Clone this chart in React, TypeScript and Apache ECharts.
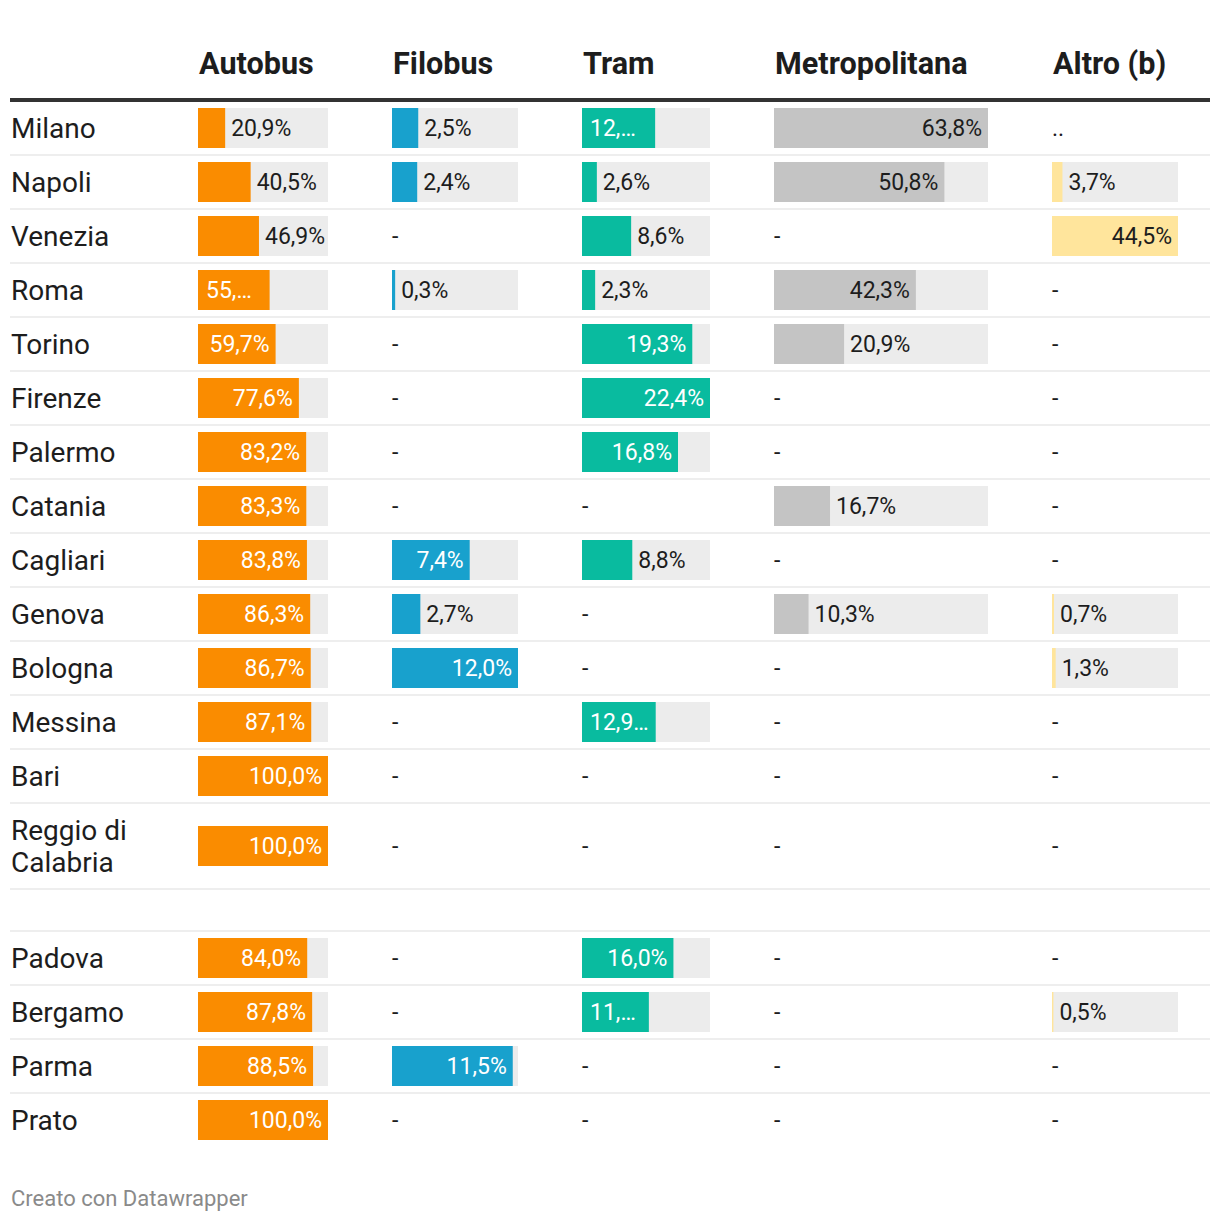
import React, { useEffect, useRef } from "react";
import * as echarts from "echarts";

// ---------- data ----------
const columns = ["Autobus", "Filobus", "Tram", "Metropolitana", "Altro (b)"];

const cities = [
  "Milano", "Napoli", "Venezia", "Roma", "Torino", "Firenze", "Palermo", "Catania",
  "Cagliari", "Genova", "Bologna", "Messina", "Bari",
  "Reggio di\nCalabria",
  "Padova", "Bergamo", "Parma", "Prato",
];

type Cell = number | null | string;

const autobus: Cell[] = [20.9, 40.5, 46.9, 55.1, 59.7, 77.6, 83.2, 83.3, 83.8, 86.3, 86.7, 87.1, 100.0, 100.0, 84.0, 87.8, 88.5, 100.0];
const filobus: Cell[] = [2.5, 2.4, null, 0.3, null, null, null, null, 7.4, 2.7, 12.0, null, null, null, null, null, 11.5, null];
const tram: Cell[] = [12.8, 2.6, 8.6, 2.3, 19.3, 22.4, 16.8, null, 8.8, null, null, 12.9, null, null, 16.0, 11.7, null, null];
const metropolitana: Cell[] = [63.8, 50.8, null, 42.3, 20.9, null, null, 16.7, null, 10.3, null, null, null, null, null, null, null, null];
const altro: Cell[] = ["..", 3.7, 44.5, null, null, null, null, null, null, 0.7, 1.3, null, null, null, null, 0.5, null, null];

// labels shown truncated in the original table
const truncatedLabels: Record<string, string> = {
  "Autobus|Roma": "55,…",
  "Tram|Milano": "12,…",
  "Tram|Messina": "12,9…",
  "Tram|Bergamo": "11,…",
};

const footerText = "Creato con Datawrapper";

// ---------- layout / style ----------
const columnData = [autobus, filobus, tram, metropolitana, altro];
const colLeft = [190, 384, 574, 766, 1044];
const colWidth = [130, 126, 128, 214, 126];
const colors = ["#fa8c00", "#18a1cd", "#09bb9f", "#c4c4c4", "#ffe59c"];
const insideColors = ["#ffffff", "#ffffff", "#ffffff", "#1d1d1d", "#1d1d1d"];
const dark = "#1d1d1d";
const bgColor = "#ececec";
const FONT = "Roboto";
const LABEL_SIZE = 23;
const PAD = 6;

const blocks = [
  { start: 0, end: 13, top: 93, height: 702 },
  { start: 13, end: 14, top: 795, height: 86 },
  { start: 14, end: 18, top: 923, height: 216 },
];

let ctx: CanvasRenderingContext2D | null = null;
function measure(t: string): number {
  if (!ctx) ctx = document.createElement("canvas").getContext("2d");
  if (!ctx) return t.length * 12;
  ctx.font = `${LABEL_SIZE}px ${FONT}`;
  return ctx.measureText(t).width;
}

function fmt(v: number): string {
  return v.toFixed(1).replace(".", ",") + "%";
}

function buildOption() {
  const grids: any[] = [];
  const xAxes: any[] = [];
  const yAxes: any[] = [];
  const series: any[] = [];

  blocks.forEach((b) => {
    const rows = cities.slice(b.start, b.end);
    columnData.forEach((col, c) => {
      const nums = col.filter((v) => typeof v === "number") as number[];
      const max = Math.max(...nums);
      const gi = grids.length;
      grids.push({ left: colLeft[c], width: colWidth[c], top: b.top, height: b.height, containLabel: false });
      xAxes.push({ type: "value", gridIndex: gi, min: 0, max, show: false });
      yAxes.push({
        type: "category",
        gridIndex: gi,
        data: rows,
        inverse: true,
        axisLine: { show: false },
        axisTick: { show: false },
        splitLine: { show: false },
        axisLabel: {
          show: c === 0,
          margin: colLeft[0] - 3,
          align: "left",
          fontFamily: FONT,
          fontSize: 28,
          lineHeight: 32,
          color: dark,
        },
      });
      const vals = col.slice(b.start, b.end);
      series.push({
        type: "bar",
        xAxisIndex: gi,
        yAxisIndex: gi,
        barWidth: 40,
        silent: true,
        itemStyle: { color: bgColor },
        data: vals.map((v) => (typeof v === "number" ? max : "-")),
      });
      series.push({
        type: "bar",
        xAxisIndex: gi,
        yAxisIndex: gi,
        barWidth: 40,
        barGap: "-100%",
        silent: true,
        itemStyle: { color: colors[c] },
        label: { show: true, fontFamily: FONT, fontSize: LABEL_SIZE },
        data: vals.map((v, k) => {
          const city = rows[k];
          if (typeof v !== "number") {
            return {
              value: 0,
              itemStyle: { color: "transparent" },
              label: { show: true, position: "right", distance: 0, formatter: v == null ? "-" : v, color: dark },
            };
          }
          const override = truncatedLabels[`${columns[c]}|${city}`];
          if (override != null) {
            return {
              value: v,
              label: { show: true, formatter: override, position: "insideLeft", distance: 8, color: insideColors[c] },
            };
          }
          const txt = fmt(v);
          const barPx = (v / max) * colWidth[c];
          const inside = measure(txt) + 2 * PAD <= barPx;
          return {
            value: v,
            label: {
              show: true,
              formatter: txt,
              position: inside ? "insideRight" : "right",
              distance: PAD,
              color: inside ? insideColors[c] : dark,
            },
          };
        }),
      });
    });
  });

  // row separators
  const lines: number[] = [];
  blocks.forEach((b, bi) => {
    const n = b.end - b.start;
    const rh = b.height / n;
    if (bi === 2) lines.push(b.top);
    for (let k = 0; k < n; k++) {
      if (bi === 2 && k === n - 1) continue;
      lines.push(b.top + rh * (k + 1));
    }
  });

  const graphic: any[] = [
    ...columns.map((name, c) => ({
      type: "text",
      x: colLeft[c] + 1,
      y: 55.5,
      style: { text: name, fontFamily: FONT, fontSize: 30.6, fontWeight: "bold", fill: dark, verticalAlign: "middle", align: "left" },
    })),
    { type: "rect", shape: { x: 2, y: 90, width: 1200, height: 4 }, style: { fill: "#333333" } },
    ...lines.map((y) => ({ type: "rect", shape: { x: 2, y: y - 1, width: 1200, height: 2 }, style: { fill: "#eeeeee" }, z: -1 })),
    {
      type: "text",
      x: 3,
      y: 1190,
      style: { text: footerText, fontFamily: FONT, fontSize: 22, fill: "#8a8a8a", verticalAlign: "middle", align: "left" },
    },
  ];

  return {
    animation: false,
    backgroundColor: "#ffffff",
    textStyle: { fontFamily: FONT },
    grid: grids,
    xAxis: xAxes,
    yAxis: yAxes,
    series,
    graphic,
  };
}

export default function App() {
  const ref = useRef<HTMLDivElement>(null);
  useEffect(() => {
    const chart = echarts.init(ref.current!, null, { renderer: "svg" });
    chart.setOption(buildOption() as any);
    return () => chart.dispose();
  }, []);
  return <div ref={ref} style={{ width: 1204, height: 1206 }} />;
}
